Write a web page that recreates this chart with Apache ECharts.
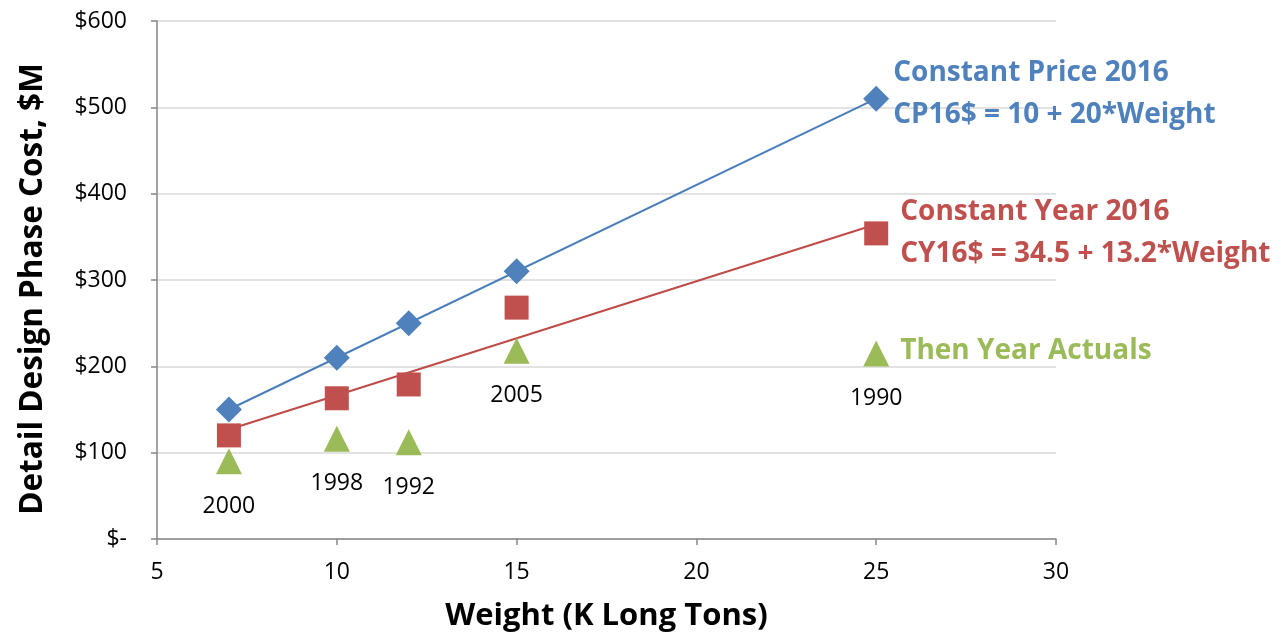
<!DOCTYPE html>
<html>
<head>
<meta charset="utf-8">
<script src="https://cdn.jsdelivr.net/npm/echarts@6/dist/echarts.min.js"></script>
<style>
  html, body { margin: 0; padding: 0; background: #ffffff; }
  #chart { width: 1287px; height: 638px; }
</style>
</head>
<body>
<div id="chart"></div>
<script>
// Ship weight (K long tons) and detail design phase cost ($M)
const weights        = [7, 10, 12, 15, 25];
const constantPrice  = [150, 210, 250, 310, 510];
const constantYear   = [120, 163, 179, 268, 354];
const thenYear       = [90, 116, 112, 218, 215];
const actualYears    = ['2000', '1998', '1992', '2005', '1990'];

// Linear fits: [intercept, slope]
const cpFit = [10, 20];
const cyFit = [34.5, 13.2];

// Axis ranges: [min, max, interval]
const xRange = [5, 30, 5];
const yRange = [0, 600, 100];

const FONT = '"Open Sans", "Noto Sans", sans-serif';
const BLUE = '#4F81BD', RED = '#C0504D', GREEN = '#9BBB59';

const pairs = (xs, ys) => xs.map((x, i) => [x, ys[i]]);
const wMin = Math.min(...weights), wMax = Math.max(...weights);
const fitLine = f => [[wMin, f[0] + f[1] * wMin], [wMax, f[0] + f[1] * wMax]];
const last = arr => arr[arr.length - 1];

// Coloured caption placed to the right of a series' last point
function note(x, y, color, lines, offset) {
  return {
    symbol: 'circle', symbolSize: 0, silent: true,
    itemStyle: { color: 'transparent' },
    data: [{
      coord: [x, y],
      label: {
        show: true, position: 'right', distance: 0, offset: offset,
        formatter: lines.map(t => '{t|' + t + '}').join('\n'),
        rich: { t: { color: color, fontFamily: FONT, fontWeight: 'bold', fontSize: 28, lineHeight: 42 } }
      }
    }]
  };
}

const chart = echarts.init(document.getElementById('chart'), null, { renderer: 'canvas' });

chart.setOption({
  animation: false,
  backgroundColor: '#ffffff',
  grid: { left: 157, right: 231, top: 21, bottom: 99 },
  xAxis: {
    type: 'value', min: xRange[0], max: xRange[1], interval: xRange[2],
    name: 'Weight (K Long Tons)', nameLocation: 'middle', nameGap: 62,
    nameTextStyle: { fontFamily: FONT, fontWeight: 'bold', fontSize: 31, color: '#000' },
    axisLine: { show: true, lineStyle: { color: '#868686', width: 1.5 } },
    axisTick: { show: true, inside: false, length: 6, lineStyle: { color: '#868686', width: 1.5 } },
    axisLabel: { fontFamily: FONT, fontSize: 23, color: '#000', margin: 22 },
    splitLine: { show: false }
  },
  yAxis: {
    type: 'value', min: yRange[0], max: yRange[1], interval: yRange[2],
    name: 'Detail Design Phase Cost, $M', nameLocation: 'middle', nameGap: 108,
    nameTextStyle: { fontFamily: FONT, fontWeight: 'bold', fontSize: 31.5, color: '#000', padding: [0, 18, 0, 0] },
    axisLine: { show: true, lineStyle: { color: '#868686', width: 1.5 } },
    axisTick: { show: true, inside: false, length: 6, lineStyle: { color: '#868686', width: 1.5 } },
    axisLabel: {
      fontFamily: FONT, fontSize: 23, color: '#000', margin: 30,
      formatter: v => v === 0 ? '$-' : '$' + v
    },
    splitLine: { show: true, lineStyle: { color: '#D9D9D9', width: 1.5 } }
  },
  series: [
    {
      name: 'CP16 fit', type: 'line', data: fitLine(cpFit), symbol: 'none',
      lineStyle: { color: '#4A7EBB', width: 2 }, silent: true, z: 2
    },
    {
      name: 'CY16 fit', type: 'line', data: fitLine(cyFit), symbol: 'none',
      lineStyle: { color: '#BE4B48', width: 2 }, silent: true, z: 2
    },
    {
      name: 'Constant Price 2016', type: 'scatter', data: pairs(weights, constantPrice),
      symbol: 'diamond', symbolSize: 26, itemStyle: { color: BLUE, opacity: 1 }, z: 3,
      markPoint: note(last(weights), last(constantPrice), BLUE,
        ['Constant Price 2016', 'CP16$ = ' + cpFit[0] + ' + ' + cpFit[1] + '*Weight'], [17, -5])
    },
    {
      name: 'Constant Year 2016', type: 'scatter', data: pairs(weights, constantYear),
      symbol: 'rect', symbolSize: 24, itemStyle: { color: RED, opacity: 1 }, z: 3,
      markPoint: note(last(weights), last(constantYear), RED,
        ['Constant Year 2016', 'CY16$ = ' + cyFit[0] + ' + ' + cyFit[1] + '*Weight'], [24, 0])
    },
    {
      name: 'Then Year Actuals', type: 'scatter',
      data: weights.map((w, i) => ({ value: [w, thenYear[i]], year: actualYears[i] })),
      symbol: 'triangle', symbolSize: 26, itemStyle: { color: GREEN, opacity: 1 }, z: 3,
      label: {
        show: true, position: 'inside', offset: [0, 45],
        formatter: p => p.data.year,
        fontFamily: FONT, fontSize: 23, color: '#000'
      },
      markPoint: note(last(weights), last(thenYear), GREEN, ['Then Year Actuals'], [24, -2])
    }
  ]
});
</script>
</body>
</html>
